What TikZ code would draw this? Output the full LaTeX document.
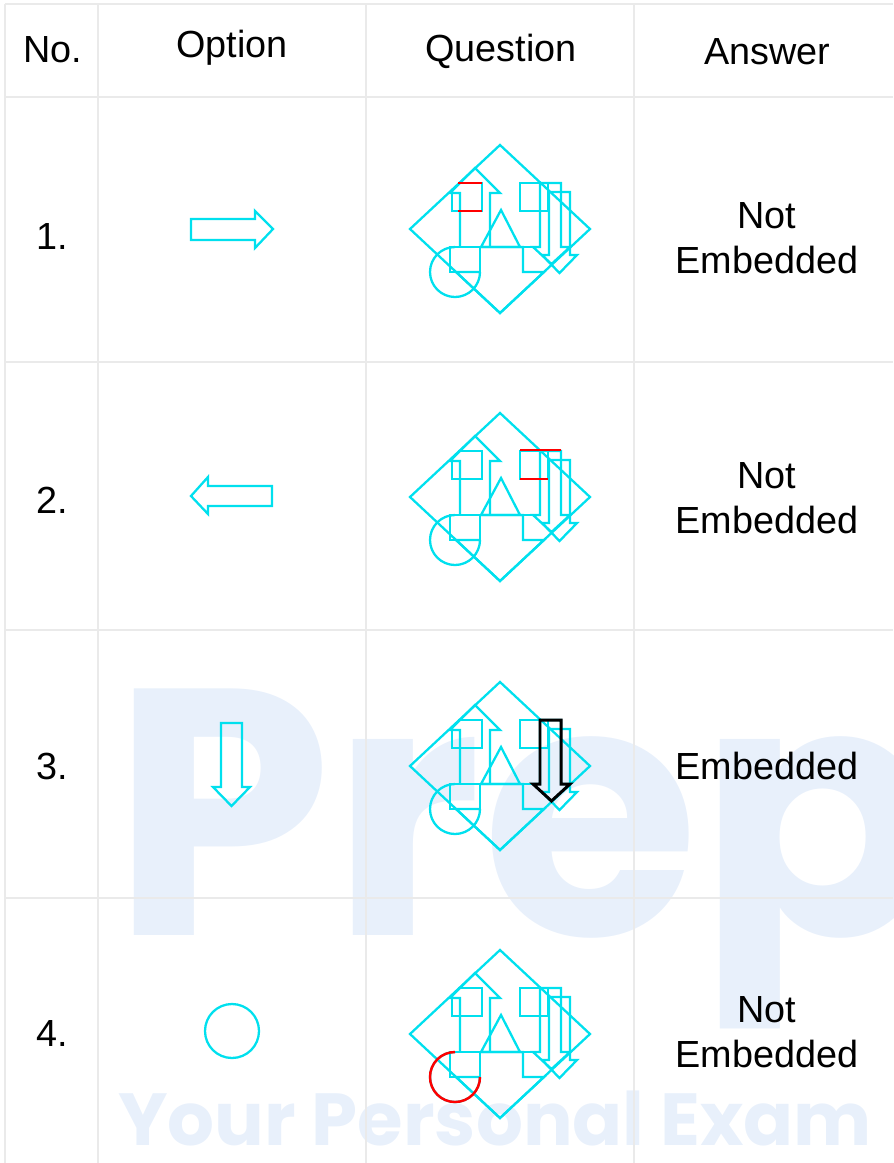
\documentclass[tikz,border=0pt]{standalone}
\usepackage{fontspec}
\setmainfont{Liberation Sans}
\newfontfamily\wmfont{Poppins}
\definecolor{qcyan}{RGB}{0,224,238}
\definecolor{gridgray}{RGB}{234,234,234}
\definecolor{wmblue}{RGB}{232,240,251}

\begin{document}
\begin{tikzpicture}[x=0.02cm,y=-0.02cm,
    gridline/.style={line width=1.2pt,color=gridgray},
    cell/.style={font=\fontsize{21.5}{25.5}\selectfont,inner sep=0pt},
    shapeline/.style={draw=qcyan,line width=1.3pt,line join=miter},
    redline/.style={draw=red,line width=1.4pt},
    blackline/.style={draw=black,line width=1.7pt,line join=miter},
    wmark/.style={text=wmblue,inner sep=0pt,anchor=base west}]
    \useasboundingbox (0,0) rectangle (893,1163);

    % watermark
    \begin{scope}
        \clip (0,0) rectangle (893,1163);
        \node[wmark,font=\wmfont\bfseries\fontsize{200}{200}\selectfont] (wmbig) at (112,935) {Prep};
        \node[wmark,font=\wmfont\bfseries\fontsize{42}{42}\selectfont] (wmsmall) at (118,1145) {Your Personal Exam};
    \end{scope}

    % table lines
    \foreach \gx in {5,98,366,634}
    \draw[gridline] (\gx,4)--(\gx,1163);
    \foreach \gy in {4,97,362,630,898}
    \draw[gridline] (5,\gy)--(893,\gy);

    % header
    \node[cell] (hno) at (53,50) {No.};
    \node[cell] (hopt) at (232,48) {Option};
    \node[cell] (hques) at (501,51) {Question};
    \node[cell] (hans) at (767,52) {Answer};

    \foreach \n/\y in {1/237,2/500,3/766,4/1033}
    \node[cell] (no\n) at (52,\y) {\n.};

    % options
    \draw[shapeline] (191,219)--(255,219)--(255,211)--(273,229)--(255,248)--(255,240)--(191,240)--cycle;
    \draw[shapeline] (272,486)--(208,486)--(208,477)--(191,496)--(208,514)--(208,506)--(272,506)--cycle;
    \draw[shapeline] (221,723)--(242,723)--(242,787)--(250,787)--(231.5,806)--(213,787)--(221,787)--cycle;
    \draw[shapeline] (232,1031) circle[radius=27];

    % question figure, one per row
    \foreach \cy in {229,497,766,1034}{
        \begin{scope}[shift={(500,\cy)}]
            \draw[shapeline] (0,-84)--(90,0)--(0,84)--(-90,0)--cycle;
            \draw[shapeline] (-40,18)--(-40,-36)--(-50,-36)--(-25,-61)--(0,-36)--(-10,-36)--(-10,18);
            \draw[shapeline] (-42,-46)--(-18,-46)--(-18,-18)--(-48,-18)--(-48,-37);
            \draw[shapeline] (1,-19)--(20,18)--(-19,18)--cycle;
            \draw[shapeline] (-50,18) rectangle (-20,43);
            \draw[shapeline] (-20,18)--(23,18)--(23,43)--(44,43)--(0,84)--(-44,43)--(-20,43);
            \draw[shapeline] (23,18)--(33,18);
            \draw[shapeline] (20,-46) rectangle (48,-18);
            \draw[shapeline] (40,-46)--(61,-46)--(61,18)--(70,18)--(51.5,35)--(33,18)--(40,18)--cycle;
            \draw[shapeline] (49,-37)--(70,-37)--(70,26)--(77,26)--(59.5,44)--(42,26)--(49,26)--cycle;
            \draw[shapeline] (-45,18) arc[start angle=270,end angle=0,radius=25];
        \end{scope}
    }

    % marks found in the question
    \draw[redline] (458,183)--(482,183);
    \draw[redline] (458,211)--(482,211);
    \draw[redline] (520,450)--(561,450);
    \draw[redline] (520,479)--(548,479);
    \draw[blackline] (540,720)--(561,720)--(561,784)--(570,784)--(551.5,801)--(533,784)--(540,784)--cycle;
    \draw[redline] (455,1052) arc[start angle=270,end angle=0,radius=25];

    % answers
    \node[cell,align=center] (ans1) at (767,238) {Not\\Embedded};
    \node[cell,align=center] (ans2) at (767,498) {Not\\Embedded};
    \node[cell] (ans3) at (767,766) {Embedded};
    \node[cell,align=center] (ans4) at (767,1032) {Not\\Embedded};
\end{tikzpicture}
\end{document}
